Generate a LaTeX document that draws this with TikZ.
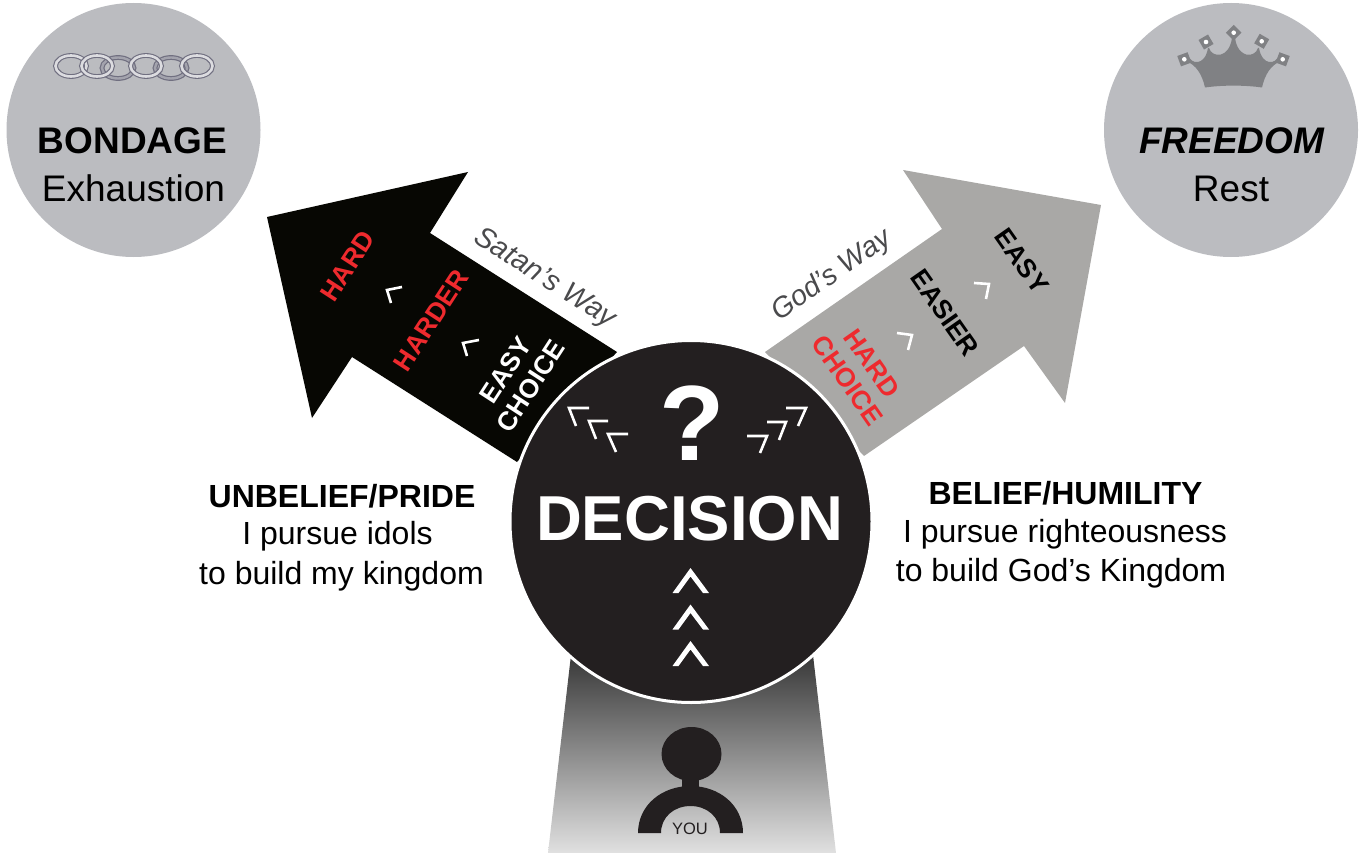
\documentclass[tikz,border=0pt]{standalone}
\usepackage{fontspec}
\setmainfont{Liberation Sans}

\definecolor{goalgray}{HTML}{BBBCC0}
\definecolor{satanblack}{HTML}{070703}
\definecolor{godgray}{HTML}{A9A8A6}
\definecolor{decisionblack}{HTML}{231F20}
\definecolor{hardred}{HTML}{EE2A2E}
\definecolor{waygray}{HTML}{4A4A4C}
\definecolor{crowngray}{HTML}{808184}
\definecolor{chaindark}{HTML}{706F80}
\definecolor{chainmid}{HTML}{A3A3AD}
\definecolor{chainlight}{HTML}{DCDCE0}

\tikzset{
  txt/.style={inner sep=0pt,align=center},
  goalbig/.style={txt,font=\fontsize{37}{44}\selectfont\bfseries},
  goalsmall/.style={txt,font=\fontsize{37}{44}\selectfont},
  sidetext/.style={txt,font=\fontsize{32}{39}\selectfont},
  steptext/.style={txt,font=\fontsize{26.5}{30}\selectfont\bfseries},
  waytext/.style={txt,font=\fontsize{29}{36}\selectfont\itshape,text=waygray},
  smallchev/.style={draw=white,line width=2.6pt,line join=miter},
}

\begin{document}
\begin{tikzpicture}[x=1pt,y=-1pt]
  \useasboundingbox (0,0) rectangle (1365,853);

  % Goal circles
  \fill[goalgray] (133.5,130) circle (127);
  \fill[goalgray] (1231,130) circle (127);

  % Chain, back links first
  \foreach \cx in {118,171} {
    \draw[line width=4.8pt,draw=chaindark] (\cx,68) ellipse (16 and 10.5);
    \draw[line width=2.4pt,draw=chainmid] (\cx,68) ellipse (16 and 10.5);
  }
  \foreach \cx in {71,97,146,197} {
    \draw[line width=4.8pt,draw=chaindark] (\cx,66) ellipse (15.5 and 10.5);
    \draw[line width=2.6pt,draw=chainlight] (\cx,66) ellipse (15.5 and 10.5);
  }

  % Crown
  \fill[crowngray] (1205,87.5) .. controls (1202,74) and (1196,65) .. (1186,61)
    -- (1188,55) .. controls (1191,65) and (1205,66) .. (1208,48)
    -- (1209,48) .. controls (1212,58) and (1229,59) .. (1232,38)
    -- (1235,38) .. controls (1238,59) and (1255,58) .. (1258,48)
    -- (1259,48) .. controls (1262,66) and (1276,65) .. (1279,55)
    -- (1281,61) .. controls (1271,65) and (1265,74) .. (1262,87.5)
    .. controls (1245,85) and (1222,85) .. (1205,87.5) -- cycle;
  \foreach \px/\py/\ang in {1184.3/59.3/20,1206/42/30,1233.7/32.7/45,1261.7/41.3/60,1282.7/59.3/70} {
    \fill[crowngray,shift={(\px,\py)},rotate=\ang] (-5.5,-5.5) rectangle (5.5,5.5);
    \fill[white] (\px,\py) circle (2.3);
  }

  % Goal labels
  \node[goalbig] (bondage) at (132.5,141) {BONDAGE};
  \node[goalsmall] (exhaustion) at (133.5,188.5) {Exhaustion};
  \node[goalbig,font=\fontsize{37}{44}\selectfont\bfseries\itshape] (freedom) at (1231.5,141) {FREEDOM};
  \node[goalsmall] (rest) at (1231,188.5) {Rest};

  % Way arrows
  \fill[satanblack] (267,217) -- (468,172) -- (430,233) -- (617,352)
    -- (517,462) -- (352,357) -- (312,418) -- cycle;
  \fill[godgray] (1101,205) -- (903,170) -- (942,229) -- (765,352)
    -- (864,456) -- (1024,346) -- (1065,403) -- cycle;

  % Path up to the decision
  \shade[top color=black!78,bottom color=black!12] (571,655) -- (813,655) -- (836,853) -- (548,853) -- cycle;

  % Decision circle
  \fill[decisionblack,draw=white,line width=3pt] (691,521.5) circle (181);

  % Person
  \fill[decisionblack] (691.5,754) ellipse (30 and 27);
  \fill[decisionblack] (682,775) rectangle (699,795);
  \fill[decisionblack] (638,833) .. controls (638,805) and (662,786) .. (690.5,786)
    .. controls (719,786) and (743,805) .. (743,833) -- (720,833)
    .. controls (720,817) and (707,806) .. (690.5,806)
    .. controls (674,806) and (661,817) .. (661,833) -- cycle;
  \node[txt,font=\fontsize{16.5}{18}\selectfont,text=decisionblack] (you) at (690,828.5) {YOU};

  % Decision text
  \node[txt,font=\fontsize{107}{112}\selectfont\bfseries,text=white] (question) at (692,423.5) {?};
  \node[txt,font=\fontsize{63.5}{70}\selectfont\bfseries,text=white] (decision) at (689.5,519) {DECISION};

  % Big chevrons
  \foreach \dy in {0,36.5,73} {
    \fill[white,shift={(0,\dy)}] (672.5,593) -- (690.5,568) -- (709,593) -- (703,593) -- (690.5,576.5) -- (678.5,593) -- cycle;
  }

  % Small chevrons
  \foreach \ax/\ay/\bx/\by/\cx/\cy in {
    589/408/569/408/576/426, 608/421/589/421/596/439, 628/434/608/434/616/452,
    786/408/806/408/798/426, 767/422/786/422/779/440, 747/436/767/436/760/453,
    402/287/387/290/391/303, 479/340/463/343/467/356,
    974/283/989/284/986/299, 897/333/912/335/908/350} {
    \draw[smallchev] (\ax,\ay) -- (\bx,\by) -- (\cx,\cy);
  }

  % Arrow labels
  \node[waytext,rotate=-32.5] (satanway) at (544.5,279) {Satan’s Way};
  \node[waytext,font=\fontsize{28.5}{36}\selectfont\itshape,rotate=35] (godway) at (832,276) {God’s Way};
  \node[steptext,text=hardred,rotate=57] (hard) at (347.5,266) {HARD};
  \node[steptext,text=hardred,rotate=57] (harder) at (431,320.5) {HARDER};
  \node[steptext,text=white,rotate=57] (easychoice) at (518,378) {EASY\\CHOICE};
  \node[steptext,rotate=-55] (easy) at (1022,261) {EASY};
  \node[steptext,rotate=-55] (easier) at (945,313) {EASIER};
  \node[steptext,text=hardred,rotate=-55] (hardchoice) at (860,372) {HARD\\CHOICE};

  % Side texts
  \node[sidetext,font=\fontsize{32}{39}\selectfont\bfseries] (unbelief) at (342,496) {UNBELIEF/PRIDE};
  \node[sidetext] (idols) at (337.5,536) {I pursue idols};
  \node[sidetext] (mykingdom) at (341.5,576) {to build my kingdom};
  \node[sidetext,font=\fontsize{32}{39}\selectfont\bfseries] (belief) at (1065.5,493) {BELIEF/HUMILITY};
  \node[sidetext] (righteous) at (1065,534) {I pursue righteousness};
  \node[sidetext] (godkingdom) at (1061,573) {to build God’s Kingdom};
\end{tikzpicture}
\end{document}
